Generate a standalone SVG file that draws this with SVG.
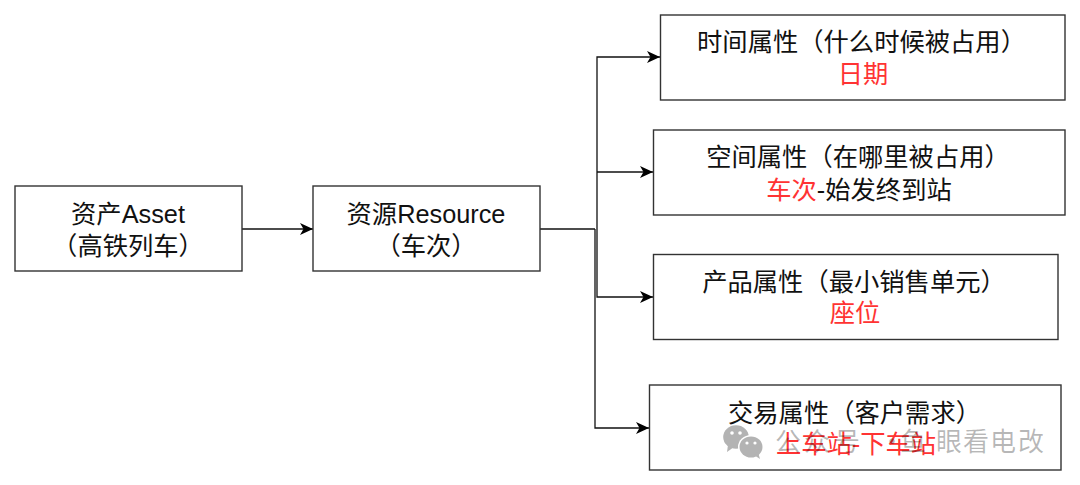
<svg xmlns="http://www.w3.org/2000/svg" width="1080" height="485" viewBox="0 0 1080 485">
<style>
.b{fill:#fff;stroke:#333;stroke-width:1.4}
.c{fill:none;stroke:#111;stroke-width:1.3}
.e{marker-end:url(#a)}
text{font-family:"Liberation Sans","Noto Sans CJK SC",sans-serif;font-size:25.300px;text-anchor:middle;fill:#111}
.r{fill:#ff3333}
.w{font-family:"Noto Sans CJK SC",sans-serif;font-size:26px;text-anchor:start;fill:#000;fill-opacity:.28}
.i{fill:#b3b3b3}
.y{fill:#fff}
</style>
<defs><marker id="a" markerUnits="userSpaceOnUse" markerWidth="14" markerHeight="12" refX="13" refY="6" orient="auto"><path d="M0 0L13 6L0 12L3.5 6Z" fill="#000"/></marker></defs>
<rect width="1080" height="485" fill="#fff"/>
<g id="connectors">
<path class="c e" d="M242 229H313"/>
<path class="c" d="M540 229H595"/>
<path class="c e" d="M597 229V57H660"/>
<path class="c e" d="M597 172H653"/>
<path class="c e" d="M597 229V297H653"/>
<path class="c e" d="M595 229V428H649"/>
</g>
<g id="n1"><rect class="b" x="15" y="186" width="227" height="85"/><text x="128" y="223">资产Asset</text><text x="128" y="255">（高铁列车）</text></g>
<g id="n2"><rect class="b" x="313" y="186" width="227" height="85"/><text x="426" y="223">资源Resource</text><text x="426" y="255">（车次）</text></g>
<g id="n3"><rect class="b" x="660.500" y="15" width="404.500" height="85"/><text x="861.500" y="51">时间属性（什么时候被占用）</text><text x="863" y="83" class="r">日期</text></g>
<g id="n4"><rect class="b" x="653.500" y="130" width="411.500" height="85"/><text x="858" y="166">空间属性（在哪里被占用）</text><text x="859" y="199"><tspan class="r">车次</tspan>-始发终到站</text></g>
<g id="n5"><rect class="b" x="653.500" y="254.500" width="404.500" height="85"/><text x="854" y="291">产品属性（最小销售单元）</text><text x="855" y="322" class="r">座位</text></g>
<g id="n6"><rect class="b" x="649.500" y="385" width="411.500" height="85"/><text x="854.500" y="422">交易属性（客户需求）</text><text x="856" y="453" class="r">上车站-下车站</text></g>
<g id="watermark">
<ellipse class="i" cx="736" cy="437" rx="12.800" ry="11.800"/>
<path class="i" d="M728 445L727 452L734 447Z"/>
<ellipse class="y" cx="751" cy="447" rx="13" ry="12"/>
<ellipse class="i" cx="751" cy="447" rx="11.500" ry="10.500"/>
<path class="i" d="M754 455L760 459L758 452Z"/>
<circle class="y" cx="732" cy="433" r="1.800"/><circle class="y" cx="740" cy="433" r="1.800"/>
<circle class="y" cx="747" cy="443" r="1.600"/><circle class="y" cx="755" cy="443" r="1.600"/>
<text class="w" y="451" x="775 804 834 879 900 936 963 990 1018">公众号·鱼眼看电改</text>
</g>
</svg>
